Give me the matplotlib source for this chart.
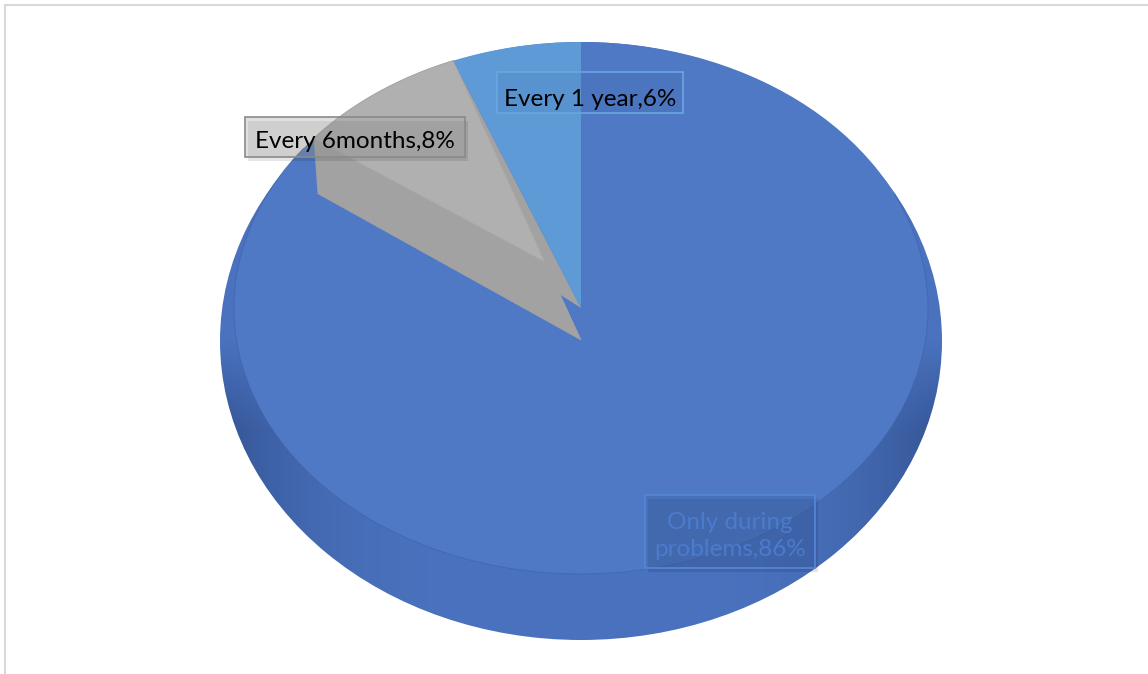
import numpy as np
import matplotlib.pyplot as plt
from matplotlib.patches import Polygon, Rectangle, Ellipse, Arc
from matplotlib.transforms import Affine2D

# data
labels = ["Only during problems", "Every 6months", "Every 1 year"]
values = [86, 8, 6]
label_text = ["Only during\nproblems,86%", "Every 6months,8%", "Every 1 year,6%"]

blue = '#4f79c4'
grey_top = '#b0b0b0'
grey_wall = '#a2a2a2'
light_blue = '#5e9bd6'

W, H = 1148, 674
fig = plt.figure(figsize=(W / 100, H / 100), dpi=100)
ax = fig.add_axes([0, 0, 1, 1])

# geometry of the 3d pie (pixels, y measured from top)
cx, cy, rx, ry = 581, 308, 347, 266      # top face
scy, srx, sry = 341, 361, 299            # silhouette incl. side

tr = Affine2D().scale(rx, ry).translate(cx, H - cy) + ax.transData

# side with shading
xs = np.linspace(cx - srx, cx + srx, 500)
ys = np.linspace(H - scy - sry, H - scy + sry, 500)
X, Y = np.meshgrid(xs, ys)
U = (X - cx) / srx
V = (Y - (H - scy)) / sry
w = np.clip(np.abs(U), 0, 1) ** 4 * np.clip(-V / 0.3, 0, 1)
mid = np.array([74, 114, 190]) / 255
dark = np.array([52, 84, 148]) / 255
rgb = mid[None, None, :] * (1 - w[..., None]) + dark[None, None, :] * w[..., None]
im = ax.imshow(rgb, extent=[xs[0], xs[-1], ys[0], ys[-1]], origin='lower',
               aspect='auto', zorder=1, interpolation='bilinear')
im.set_clip_path(Ellipse((cx, H - scy), 2 * srx, 2 * sry, transform=ax.transData))

# main top face
wedges, _ = ax.pie(values, startangle=90, counterclock=False,
                   colors=[blue, grey_wall, 'none'], wedgeprops=dict(linewidth=0))
for wd in wedges:
    wd.set_transform(tr)
    wd.set_zorder(2)

ax.add_patch(Arc((cx, H - cy), 2 * rx, 2 * ry, theta1=150, theta2=380,
                 color='#3d62a6', lw=0.7, alpha=0.6, zorder=3))

# raised grey slice
cum = np.cumsum(values) / np.sum(values) * 360
a1 = np.radians(90 - cum[0])
a2 = np.radians(90 - cum[1])
t = np.linspace(a1, a2, 60)
arc = np.column_stack([np.cos(t), np.sin(t)])
top_poly = np.vstack([arc, [[-0.104, 0.173]]])
bot_poly = np.vstack([arc + [0.0115, -0.207], [[0.0, -0.12]]])
for s in np.linspace(0, 1, 40):
    ax.add_patch(Polygon(bot_poly + s * (top_poly - bot_poly), closed=True,
                         facecolor=grey_wall, edgecolor=grey_wall, lw=0.5,
                         transform=tr, zorder=4))
ax.add_patch(Polygon(top_poly, closed=True, facecolor=grey_top,
                     edgecolor='#a8a8a8', lw=0.6, transform=tr, zorder=5))

# light blue slice on top
wedges2, _ = ax.pie(values, startangle=90, counterclock=False,
                    colors=['none', 'none', light_blue], wedgeprops=dict(linewidth=0))
for wd in wedges2:
    wd.set_transform(tr)
    wd.set_zorder(6)

# labels
font = 'Lato'
fs = 17.5

def box(x0, y0, x1, y1, ec, fc, alpha, shadow=True):
    if shadow:
        ax.add_patch(Rectangle((x0 + 3, H - y1 - 4), x1 - x0, y1 - y0,
                               facecolor='black', alpha=0.10, lw=0, zorder=7))
    ax.add_patch(Rectangle((x0, H - y1), x1 - x0, y1 - y0, facecolor=fc,
                           alpha=alpha, lw=0, zorder=8))
    ax.add_patch(Rectangle((x0, H - y1), x1 - x0, y1 - y0, facecolor='none',
                           edgecolor=ec, lw=1.2, zorder=9))

box(497, 72, 683, 113, '#6aa6df', '#3b63a8', 0.15, shadow=False)
ax.text(590, H - 99, label_text[2], ha='center', va='center', fontsize=fs,
        family=font, color='black', zorder=10)

box(245, 117, 465, 157, '#8a8a8a', '#a8a8a8', 0.35)
ax.text(355, H - 142, label_text[1], ha='center', va='center', fontsize=fs,
        family=font, color='black', zorder=10)

box(645, 495, 815, 568, '#5587d8', '#3d64ad', 0.35)
ax.text(730, H - 536, label_text[0], ha='center', va='center', fontsize=fs,
        family=font, color='#4b7bcd', zorder=10, linespacing=1.35)

# chart frame
ax.plot([5, 5], [H - 5, -10], color='#d9d9d9', lw=1.5, zorder=0)
ax.plot([5, W + 10], [H - 5, H - 5], color='#d9d9d9', lw=1.5, zorder=0)

ax.set_aspect('auto')
ax.set_xlim(0, W)
ax.set_ylim(0, H)
ax.axis('off')

fig.savefig('out.png', dpi=100)
